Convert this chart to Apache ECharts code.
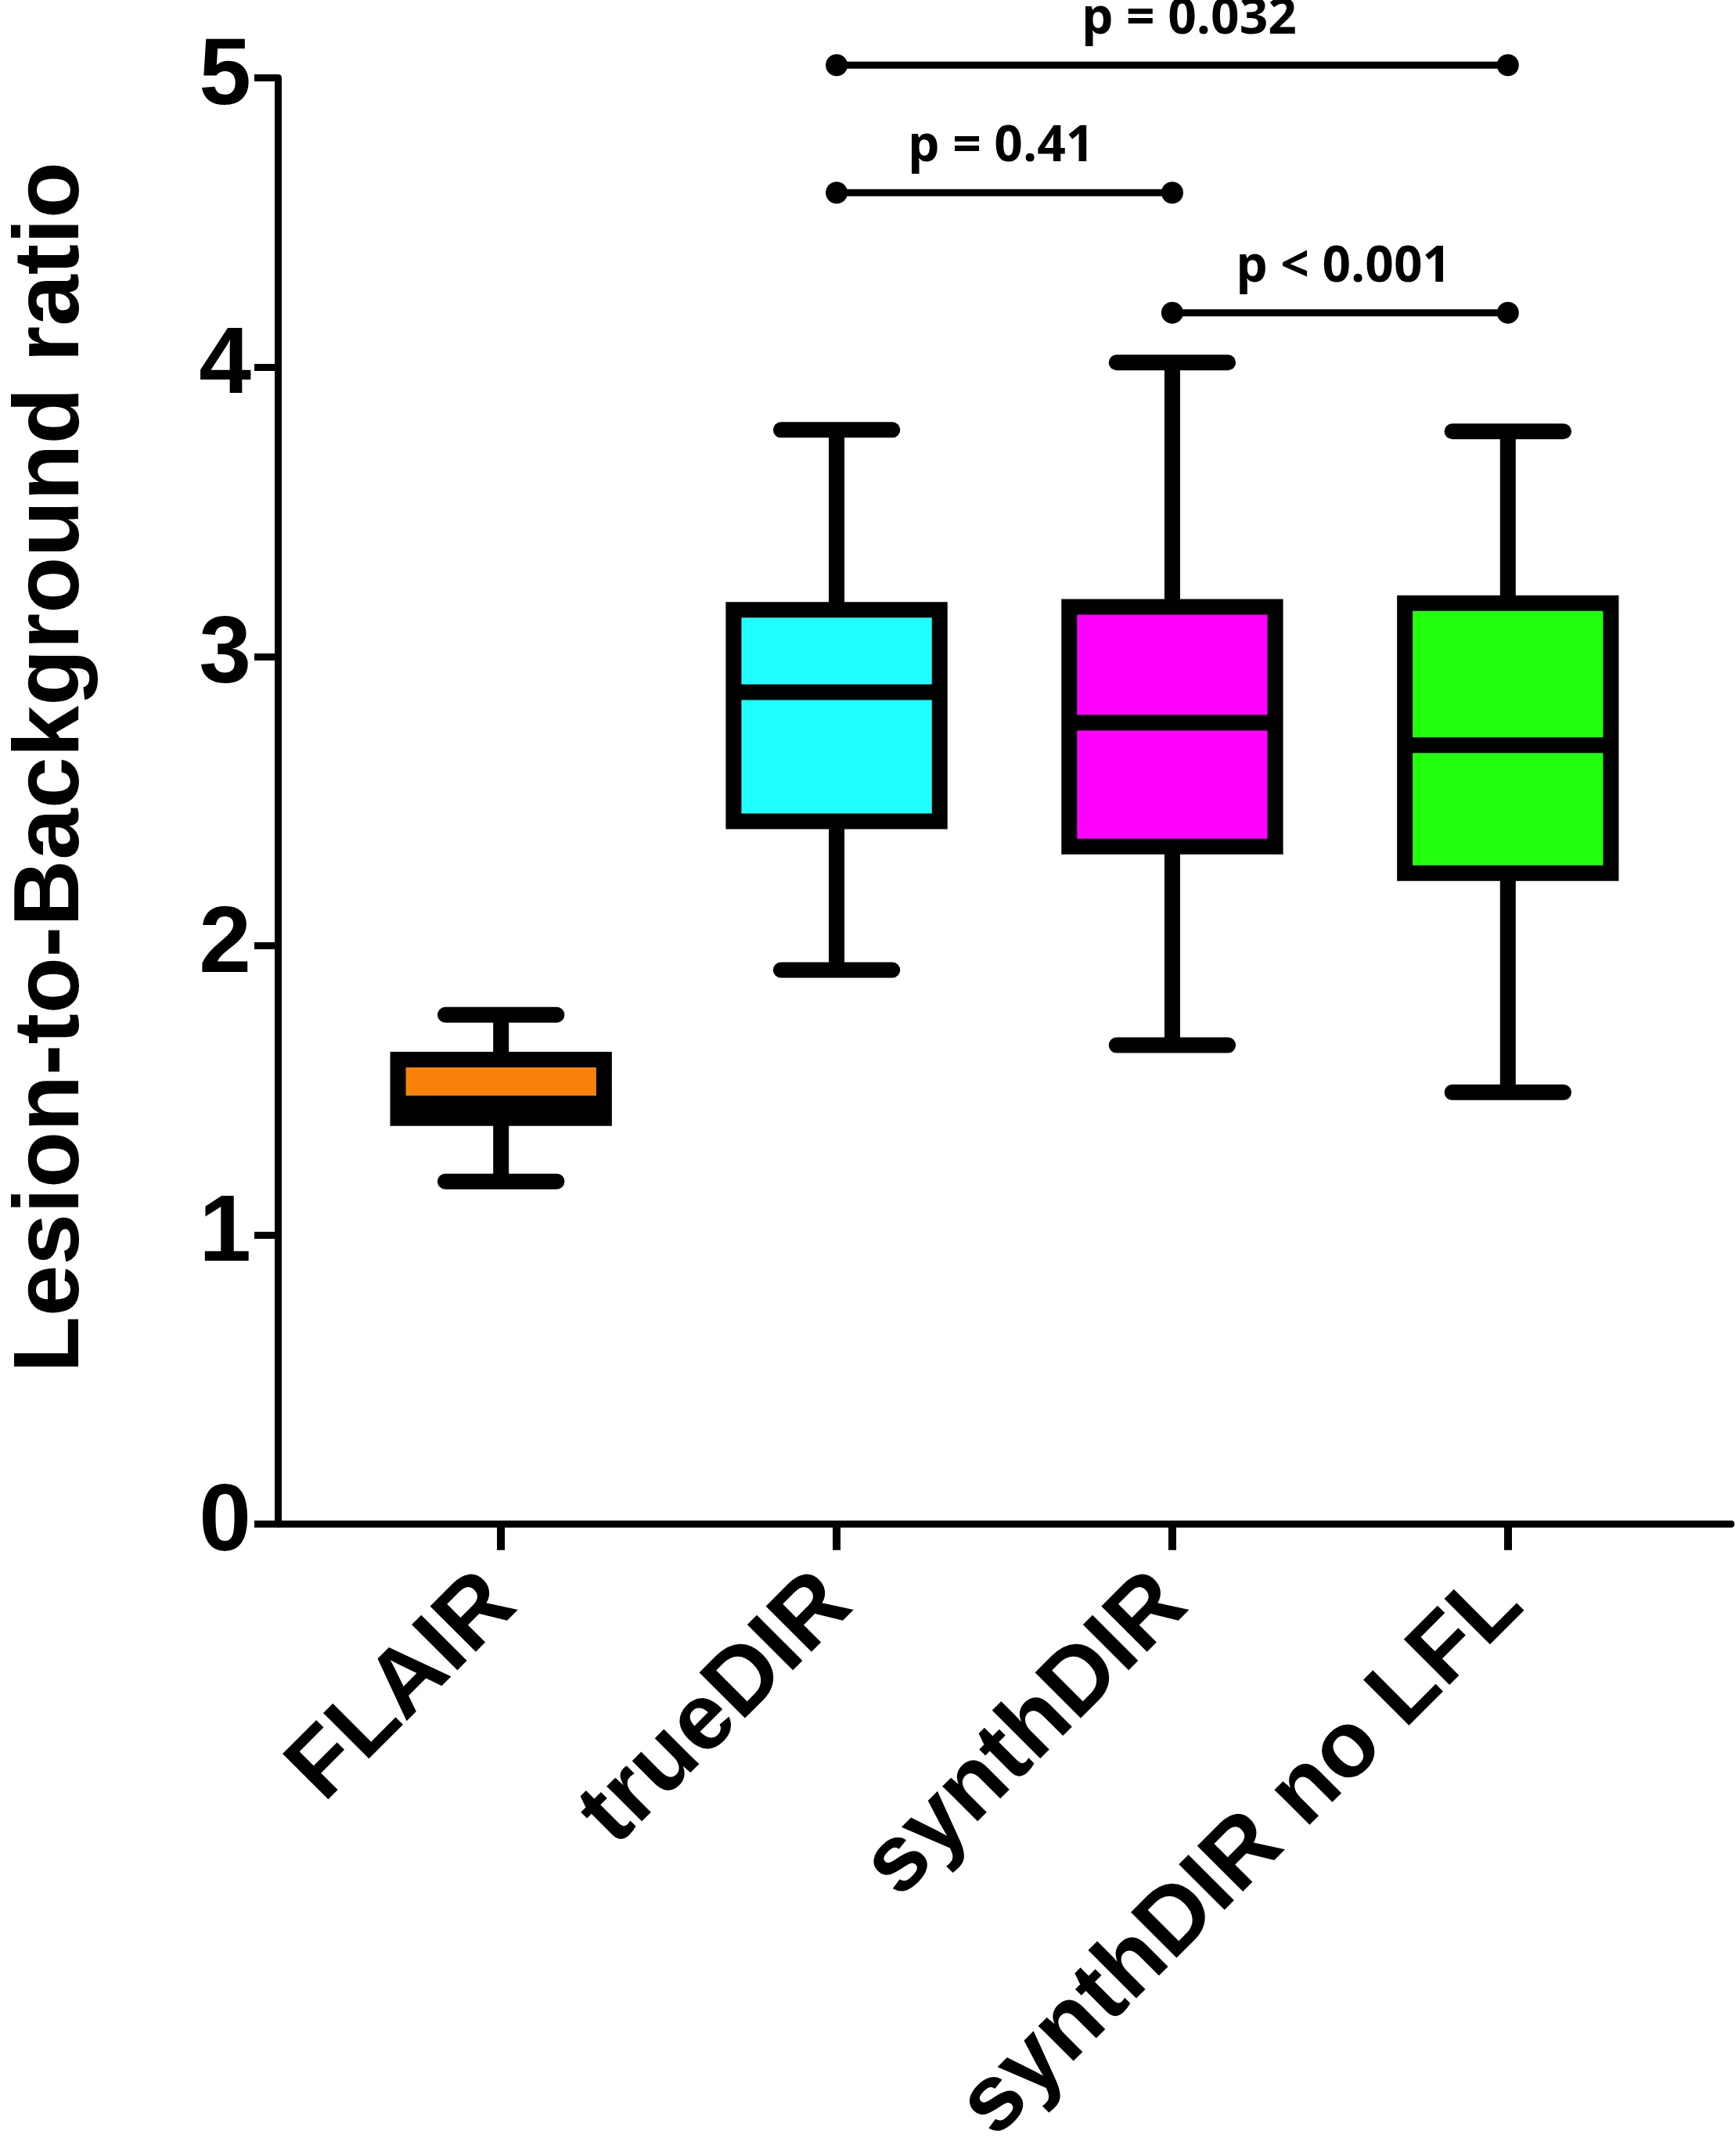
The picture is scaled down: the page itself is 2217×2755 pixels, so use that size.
<!DOCTYPE html>
<html>
<head>
<meta charset="utf-8">
<script src="https://cdn.jsdelivr.net/npm/echarts@6/dist/echarts.min.js"></script>
<style>
  html, body { margin: 0; padding: 0; background: #fff; }
  #chart { width: 2217px; height: 2755px; }
</style>
</head>
<body>
<div id="chart"></div>
<script>
// groups on the x axis
var categories = ['FLAIR', 'trueDIR', 'synthDIR', 'synthDIR no LFL'];
var boxColors = ['#F8820C', '#20FFFF', '#FF00FF', '#22FF0E'];

// box stats
var whiskerLow  = [1.185, 1.916, 1.656, 1.493];
var quart1      = [1.404, 2.430, 2.343, 2.251];
var medians     = [1.455, 2.876, 2.771, 2.693];
var quart3      = [1.606, 3.161, 3.171, 3.184];
var whiskerHigh = [1.761, 3.783, 4.016, 3.778];

// significance brackets
var bracketFrom = [1, 1, 2];
var bracketTo   = [3, 2, 3];
var bracketY    = [5.044, 4.603, 4.188];
var pLabels     = ['p = 0.032', 'p = 0.41', 'p < 0.001'];
var pLabelX     = [2.05, 1.49, 2.51];

var yTicks = [0, 1, 2, 3, 4, 5];

var BOX_HALF = 0.307;
var CAP_HALF = 0.166;

var boxData = categories.map(function (c, i) {
  return [i, whiskerLow[i], quart1[i], medians[i], quart3[i], whiskerHigh[i]];
});
var bracketData = bracketFrom.map(function (f, i) {
  return [f, bracketTo[i], bracketY[i], pLabelX[i], i];
});

function renderBox(params, api) {
  var i = api.value(0);
  var lo = api.coord([i, api.value(1)]);
  var q1 = api.coord([i, api.value(2)]);
  var md = api.coord([i, api.value(3)]);
  var q3 = api.coord([i, api.value(4)]);
  var hi = api.coord([i, api.value(5)]);
  var half = api.size([BOX_HALF, 0])[0];
  var cap = api.size([CAP_HALF, 0])[0];
  var x = lo[0];
  var black = { stroke: '#000', lineWidth: 20, fill: null };
  return {
    type: 'group',
    children: [
      { type: 'line', shape: { x1: x, y1: q1[1], x2: x, y2: lo[1] }, style: black },
      { type: 'line', shape: { x1: x, y1: q3[1], x2: x, y2: hi[1] }, style: black },
      { type: 'line', shape: { x1: x - cap, y1: lo[1], x2: x + cap, y2: lo[1] },
        style: { stroke: '#000', lineWidth: 20, lineCap: 'round' } },
      { type: 'line', shape: { x1: x - cap, y1: hi[1], x2: x + cap, y2: hi[1] },
        style: { stroke: '#000', lineWidth: 20, lineCap: 'round' } },
      { type: 'rect', shape: { x: x - half, y: q3[1], width: half * 2, height: q1[1] - q3[1] },
        style: { fill: boxColors[i], stroke: '#000', lineWidth: 20 } },
      { type: 'line', shape: { x1: x - half, y1: md[1], x2: x + half, y2: md[1] }, style: black }
    ]
  };
}

function renderBracket(params, api) {
  var a = api.coord([api.value(0), api.value(2)]);
  var b = api.coord([api.value(1), api.value(2)]);
  var t = api.coord([api.value(3), api.value(2)]);
  var idx = api.value(4);
  return {
    type: 'group',
    children: [
      { type: 'line', shape: { x1: a[0], y1: a[1], x2: b[0], y2: b[1] },
        style: { stroke: '#000', lineWidth: 9 } },
      { type: 'circle', shape: { cx: a[0], cy: a[1], r: 14 }, style: { fill: '#000' } },
      { type: 'circle', shape: { cx: b[0], cy: b[1], r: 14 }, style: { fill: '#000' } },
      { type: 'text', x: t[0], y: t[1] - 58,
        style: { text: pLabels[idx], align: 'center', verticalAlign: 'middle',
          fontFamily: 'Open Sans', fontWeight: 'bold', fontSize: 64, fill: '#000' } }
    ]
  };
}

var chart = echarts.init(document.getElementById('chart'));
var axisFont = { fontFamily: 'Liberation Sans', fontWeight: 'bold', color: '#000' };

chart.setOption({
  animation: false,
  backgroundColor: '#fff',
  grid: { left: 337, right: 5, top: 99.5, bottom: 780.5 },
  xAxis: {
    type: 'value',
    min: -0.665,
    max: 3.665,
    splitLine: { show: false },
    axisLine: { show: true, onZero: false, lineStyle: { color: '#000', width: 9 } },
    axisTick: { show: true, customValues: [0, 1, 2, 3], length: 33,
      lineStyle: { color: '#000', width: 10 } },
    axisLabel: Object.assign({
      show: true,
      customValues: [0, 1, 2, 3],
      formatter: function (v) { return categories[Math.round(v)]; },
      rotate: 45,
      margin: 84,
      fontSize: 120
    }, axisFont)
  },
  yAxis: {
    type: 'value',
    min: 0,
    max: 5,
    interval: 1,
    splitLine: { show: false },
    axisLine: { show: true, onZero: false, lineStyle: { color: '#000', width: 9 } },
    axisTick: { show: true, length: 30, lineStyle: { color: '#000', width: 9 } },
    axisLabel: Object.assign({
      fontSize: 120,
      margin: 34,
      formatter: function (v) { return yTicks.indexOf(v) >= 0 ? String(v) : ''; }
    }, axisFont),
    name: 'Lesion-to-Background ratio',
    nameLocation: 'middle',
    nameRotate: 90,
    nameGap: 229,
    nameTextStyle: Object.assign({ fontSize: 118, padding: [0, 0, 0, 86] }, axisFont)
  },
  series: [
    {
      type: 'custom',
      renderItem: renderBox,
      clip: false,
      encode: { x: 0, y: [1, 2, 3, 4, 5] },
      data: boxData
    },
    {
      type: 'custom',
      renderItem: renderBracket,
      clip: false,
      encode: { x: [0, 1], y: 2 },
      data: bracketData
    }
  ]
});
</script>
</body>
</html>
